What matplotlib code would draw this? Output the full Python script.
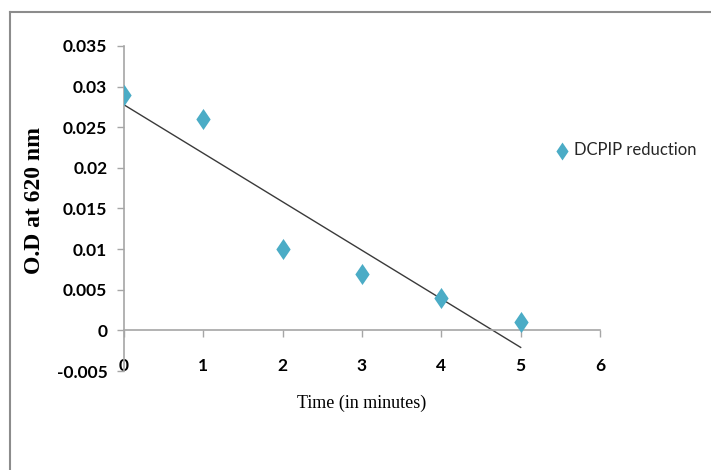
import numpy as np
import matplotlib.pyplot as plt
from matplotlib.lines import Line2D

# data
time_min = np.array([0, 1, 2, 3, 4, 5])
od_620 = np.array([0.029, 0.026, 0.010, 0.007, 0.004, 0.001])
x_ticks = [0, 1, 2, 3, 4, 5, 6]
y_ticks = [-0.005, 0, 0.005, 0.01, 0.015, 0.02, 0.025, 0.03, 0.035]
y_labels = ["-0.005", "0", "0.005", "0.01", "0.015", "0.02", "0.025", "0.03", "0.035"]

sans = ["Lato", "DejaVu Sans"]
serif = ["Liberation Serif", "DejaVu Serif"]

fig = plt.figure(figsize=(7.11, 4.70), dpi=100)
ax = fig.add_axes([124/711, 1-371/470, 476/711, 325/470])

# tall diamond like the Excel marker
diamond = [(0, 1), (0.68, 0), (0, -1), (-0.68, 0), (0, 1)]
ax.scatter(time_min, od_620, marker=diamond, s=230, color="#4bacc6",
           linewidths=0, zorder=3, label="DCPIP reduction")

# linear trendline
slope, intercept = np.polyfit(time_min, od_620, 1)
ax.plot(time_min[[0, -1]], slope*time_min[[0, -1]] + intercept,
        color="#3a3a3a", lw=1.0, zorder=2)

ax.set_xlim(0, 6)
ax.set_ylim(-0.005, 0.035)
ax.set_xticks(x_ticks)
ax.set_yticks(y_ticks)
ax.set_yticklabels(y_labels)

for s in ["top", "right"]:
    ax.spines[s].set_visible(False)
ax.spines["bottom"].set_position(("data", 0))
for s in ["left", "bottom"]:
    ax.spines[s].set_color("#a6a6a6")
    ax.spines[s].set_linewidth(1.2)
ax.tick_params(axis="both", direction="out", length=5, color="#a6a6a6", width=1)
ax.tick_params(axis="x", pad=15)
ax.tick_params(axis="y", pad=7)
for lab in ax.get_xticklabels() + ax.get_yticklabels():
    lab.set_fontfamily(sans)
    lab.set_fontsize(12.5)
    lab.set_fontweight("bold")

ax.set_xlabel("Time (in minutes)", fontfamily=serif, fontsize=13, labelpad=15)
ax.set_ylabel("O.D at 620 nm", fontfamily=serif, fontsize=17,
              fontweight="bold")
ax.yaxis.set_label_coords(45/711, 1-201/470, transform=fig.transFigure)

leg = ax.legend(loc="center left", bbox_to_anchor=(537/711, 1-150/470),
                bbox_transform=fig.transFigure, frameon=False,
                prop={"family": sans, "size": 12}, handletextpad=0.1,
                handlelength=1.2, markerscale=0.85)
for t in leg.get_texts():
    t.set_color("#262626")

# outer chart frame (partly cropped in the original)
fig.add_artist(Line2D([10/711, 1], [1-12/470, 1-12/470], color="#8c8c8c", lw=1.5))
fig.add_artist(Line2D([10/711, 10/711], [0, 1-12/470], color="#8c8c8c", lw=1.5))

fig.savefig("out.png", dpi=100)
